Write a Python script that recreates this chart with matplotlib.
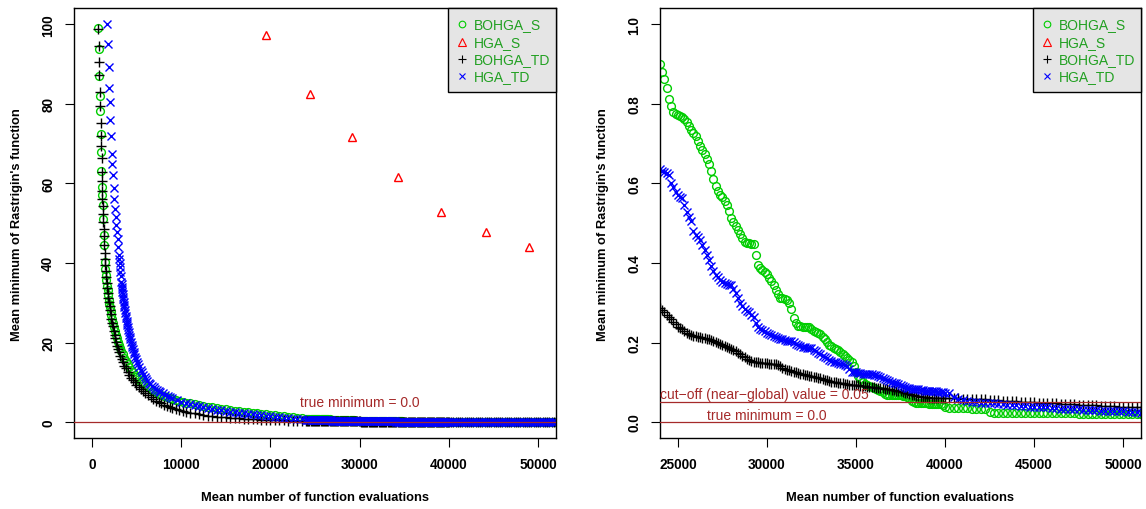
import matplotlib
matplotlib.use("Agg")
import matplotlib.pyplot as plt
from matplotlib.patches import Rectangle

plt.rcParams['font.family'] = ['Liberation Sans', 'DejaVu Sans']

# ---------------- data ----------------
series_names = ["BOHGA_S", "HGA_S", "BOHGA_TD", "HGA_TD"]

# evaluation positions of the late (24000+) part, shared by the three dense series
late_x = [24000, 24125, 24250, 24375, 24500, 24625, 24750, 24875,
          25000, 25125, 25250, 25375, 25500, 25625, 25750, 25875,
          26000, 26125, 26250, 26375, 26500, 26625, 26750, 26875,
          27000, 27125, 27250, 27375, 27500, 27625, 27750, 27875,
          28000, 28125, 28250, 28375, 28500, 28625, 28750, 28875,
          29000, 29125, 29250, 29375, 29500, 29625, 29750, 29875,
          30000, 30125, 30250, 30375, 30500, 30625, 30750, 30875,
          31000, 31125, 31250, 31375, 31500, 31625, 31750, 31875,
          32000, 32125, 32250, 32375, 32500, 32625, 32750, 32875,
          33000, 33125, 33250, 33375, 33500, 33625, 33750, 33875,
          34000, 34125, 34250, 34375, 34500, 34625, 34750, 34875,
          35000, 35125, 35250, 35375, 35500, 35625, 35750, 35875,
          36000, 36125, 36250, 36375, 36500, 36625, 36750, 36875,
          37000, 37125, 37250, 37375, 37500, 37625, 37750, 37875,
          38000, 38125, 38250, 38375, 38500, 38625, 38750, 38875,
          39000, 39125, 39250, 39375, 39500, 39625, 39750, 39875,
          40000,
          40250, 40500, 40750, 41000, 41250, 41500, 41750, 42000, 42250, 42500, 42750, 43000,
          43250, 43500, 43750, 44000, 44250, 44500, 44750, 45000, 45250, 45500, 45750, 46000,
          46250, 46500, 46750, 47000, 47250, 47500, 47750, 48000, 48250, 48500, 48750, 49000,
          49250, 49500, 49750, 50000, 50250, 50500, 50750, 51000, 51250, 51500, 51750, 52000]

# BOHGA_S (green circles)
bohga_s_early_x = [640, 760, 800, 860, 900, 970, 1010, 1080, 1140, 1170, 1250, 1300, 1350, 1390,
                   1460, 1520, 1580, 1640, 1700, 1760, 1830, 1900, 1970, 2040, 2120, 2200, 2290,
                   2380, 2480, 2580, 2690, 2800, 2920, 3040, 3170, 3300, 3450, 3600, 3800, 4000,
                   4200, 4400, 4600, 4800, 5000, 5250, 5500, 5750, 6000, 6300, 6600, 6900, 7200,
                   7500, 7800, 8100, 8400, 8700, 9000, 9400, 9800, 10200, 10600, 11000, 11500,
                   12000, 12500, 13000, 13500, 14000, 14500, 15000, 15500, 16000, 16500, 17000,
                   17500, 18000, 18500, 19000, 19500, 20000, 20500, 21000, 21500, 22000, 22500,
                   23000, 23500]
bohga_s_early_y = [99.0, 93.7, 86.9, 82.0, 78.1, 72.5, 68.0, 63.1, 59.1, 57.1, 54.5, 51.1, 47.1, 44.4,
                   40.3, 38.6, 37.0, 35.6, 34.3, 33.1, 31.9, 30.8, 29.8, 28.8, 27.8, 26.8, 25.8,
                   24.9, 23.9, 23.0, 22.0, 21.1, 20.2, 19.4, 18.5, 17.8, 17.0, 16.2, 15.3, 14.5,
                   13.8, 13.1, 12.5, 11.9, 11.4, 10.8, 10.2, 9.7, 9.2, 8.8, 8.3, 7.9, 7.5,
                   7.1, 6.8, 6.45, 6.2, 5.95, 5.75, 5.5, 5.3, 5.1, 4.9, 4.7, 4.5,
                   4.3, 4.1, 3.9, 3.72, 3.55, 3.38, 3.2, 3.05, 2.9, 2.75, 2.6,
                   2.47, 2.35, 2.22, 2.1, 1.97, 1.85, 1.72, 1.6, 1.47, 1.35, 1.22,
                   1.1, 1.0]
bohga_s_late_y = [0.900, 0.880, 0.862, 0.840, 0.812, 0.795, 0.780, 0.775,
                  0.772, 0.769, 0.766, 0.762, 0.755, 0.745, 0.735, 0.727,
                  0.718, 0.706, 0.694, 0.684, 0.674, 0.662, 0.648, 0.630,
                  0.610, 0.594, 0.580, 0.572, 0.565, 0.556, 0.545, 0.530,
                  0.514, 0.503, 0.493, 0.482, 0.472, 0.462, 0.452, 0.450,
                  0.449, 0.448, 0.447, 0.420, 0.395, 0.388, 0.383, 0.378,
                  0.372, 0.363, 0.355, 0.344, 0.333, 0.322, 0.313, 0.311,
                  0.309, 0.306, 0.300, 0.285, 0.262, 0.248, 0.242, 0.241,
                  0.240, 0.240, 0.240, 0.238, 0.235, 0.230, 0.226, 0.224,
                  0.221, 0.215, 0.208, 0.201, 0.195, 0.190, 0.186, 0.183,
                  0.180, 0.176, 0.172, 0.167, 0.162, 0.157, 0.150, 0.140,
                  0.125, 0.115, 0.108, 0.100, 0.095, 0.092, 0.090, 0.088,
                  0.086, 0.083, 0.080, 0.078, 0.075, 0.071, 0.069, 0.069,
                  0.069, 0.068, 0.068, 0.067, 0.067, 0.066, 0.066, 0.064,
                  0.060, 0.054, 0.050, 0.049, 0.048, 0.047, 0.047, 0.047,
                  0.047, 0.046, 0.046, 0.046, 0.046, 0.045, 0.045, 0.042,
                  0.037,
                  0.036, 0.036, 0.035, 0.035, 0.035, 0.034, 0.034, 0.034, 0.033, 0.025, 0.024, 0.024,
                  0.024, 0.024, 0.023, 0.023, 0.023, 0.023, 0.023, 0.023, 0.022, 0.022, 0.022, 0.022,
                  0.022, 0.022, 0.022, 0.022, 0.022, 0.021, 0.021, 0.021, 0.021, 0.021, 0.021, 0.021,
                  0.021, 0.021, 0.020, 0.020, 0.020, 0.020, 0.020, 0.020, 0.020, 0.020, 0.020, 0.020]

# HGA_S (red triangles)
hga_s_x = [19500, 24450, 29200, 34300, 39100, 44200, 49000]
hga_s_y = [97.2, 82.5, 71.7, 61.7, 52.9, 47.9, 44.1]

# BOHGA_TD (black plus)
bohga_td_early_x = [640, 787, 800, 824, 899, 936, 974, 1011, 1050, 1086, 1110, 1123, 1145, 1161,
                    1198, 1235, 1273, 1310, 1348, 1386, 1423, 1470, 1520, 1570, 1620, 1680, 1740,
                    1800, 1860, 1920, 1980, 2050, 2120, 2200, 2280, 2360, 2450, 2540, 2640, 2740,
                    2850, 2960, 3080, 3200, 3350, 3500, 3650, 3800, 4000, 4200, 4400, 4600, 4800,
                    5000, 5250, 5500, 5750, 6000, 6300, 6600, 6900, 7200, 7500, 7800, 8100, 8400,
                    8700, 9000, 9400, 9800, 10200, 10600, 11000, 11500, 12000, 12500, 13000, 13500,
                    14000, 14500, 15000, 15500, 16000, 16500, 17000, 17500, 18000, 18500, 19000,
                    19500, 20000, 20500, 21000, 21500, 22000, 22500, 23000, 23500]
bohga_td_early_y = [98.9, 94.6, 90.6, 87.2, 83.0, 79.4, 75.2, 71.9, 69.3, 66.4, 62.9, 60.5, 58.2, 56.1,
                    54.3, 52.4, 50.4, 48.6, 46.8, 44.4, 42.4, 40.9, 39.4, 37.9, 36.4, 35.0, 33.7,
                    32.5, 31.3, 30.3, 29.3, 28.1, 27.1, 26.0, 25.0, 24.1, 23.0, 22.0, 21.1, 20.2,
                    19.2, 18.4, 17.5, 16.7, 15.8, 15.0, 14.2, 13.5, 12.7, 11.9, 11.2, 10.6, 10.0,
                    9.4, 8.8, 8.2, 7.7, 7.2, 6.7, 6.2, 5.8, 5.4, 5.0, 4.7, 4.4, 4.1,
                    3.8, 3.6, 3.3, 3.0, 2.8, 2.6, 2.4, 2.2, 2.0, 1.8, 1.65, 1.5,
                    1.4, 1.3, 1.2, 1.1, 1.0, 0.92, 0.85, 0.78, 0.72, 0.67, 0.62,
                    0.57, 0.53, 0.49, 0.45, 0.42, 0.39, 0.36, 0.33, 0.31]
bohga_td_late_y = [0.286, 0.281, 0.276, 0.270, 0.265, 0.258, 0.252, 0.246,
                   0.240, 0.237, 0.234, 0.229, 0.224, 0.221, 0.219, 0.217,
                   0.216, 0.215, 0.214, 0.212, 0.211, 0.210, 0.208, 0.206,
                   0.204, 0.202, 0.200, 0.196, 0.193, 0.191, 0.189, 0.186,
                   0.183, 0.181, 0.178, 0.174, 0.170, 0.166, 0.163, 0.159,
                   0.156, 0.154, 0.152, 0.151, 0.150, 0.149, 0.149, 0.148,
                   0.148, 0.147, 0.147, 0.146, 0.145, 0.143, 0.140, 0.137,
                   0.134, 0.132, 0.130, 0.128, 0.127, 0.125, 0.123, 0.122,
                   0.121, 0.119, 0.118, 0.116, 0.115, 0.114, 0.113, 0.111,
                   0.110, 0.108, 0.107, 0.105, 0.103, 0.102, 0.101, 0.100,
                   0.099, 0.098, 0.097, 0.096, 0.095, 0.094, 0.094, 0.093,
                   0.093, 0.092, 0.091, 0.090, 0.090, 0.089, 0.088, 0.087,
                   0.087, 0.086, 0.086, 0.085, 0.085, 0.084, 0.083, 0.082,
                   0.081, 0.080, 0.079, 0.078, 0.077, 0.075, 0.074, 0.072,
                   0.071, 0.069, 0.068, 0.066, 0.065, 0.064, 0.063, 0.062,
                   0.062, 0.061, 0.061, 0.061, 0.061, 0.060, 0.060, 0.060,
                   0.060,
                   0.060, 0.060, 0.060, 0.059, 0.059, 0.059, 0.058, 0.058, 0.057, 0.056, 0.056, 0.055,
                   0.054, 0.053, 0.052, 0.052, 0.051, 0.051, 0.050, 0.050, 0.049, 0.049, 0.048, 0.047,
                   0.047, 0.046, 0.046, 0.045, 0.045, 0.044, 0.043, 0.043, 0.042, 0.042, 0.041, 0.041,
                   0.040, 0.040, 0.039, 0.039, 0.038, 0.038, 0.037, 0.037, 0.037, 0.036, 0.036, 0.036]

# HGA_TD (blue crosses)
hga_td_early_x = [1723, 1798, 1873, 1948, 2022, 2060, 2135, 2210, 2285, 2360, 2435, 2509, 2584,
                  2659, 2734, 2809, 2884, 2958, 3033, 3080, 3108, 3150, 3183, 3240, 3296, 3323,
                  3350, 3379, 3408, 3444, 3480, 3519, 3558, 3604, 3650, 3697, 3745, 3792, 3840,
                  3886, 3933, 3976, 4020, 4070, 4120, 4185, 4250, 4316, 4382, 4456, 4530, 4606,
                  4682, 4771, 4860, 4958, 5056, 5178, 5300, 5459, 5618, 5759, 5900, 6040, 6180,
                  6365, 6550, 6740, 6929, 7115, 7300, 7490, 7678, 8000, 8250, 8500, 8750, 9000,
                  9500, 10000, 10500, 11000, 11500, 12000, 12500, 13000, 13500, 14000, 14500,
                  15000, 15500, 16000, 16500, 17000, 17500, 18000, 18500, 19000, 19500, 20000,
                  20500, 21000, 21500, 22000, 22500, 23000, 23500]
hga_td_early_y = [100.0, 95.0, 89.3, 84.0, 80.5, 76.0, 71.8, 67.4, 64.9, 62.0, 58.9, 56.1, 53.6,
                  51.5, 49.5, 47.8, 46.0, 44.1, 42.0, 41.0, 39.9, 39.0, 37.8, 36.6, 35.3, 34.6,
                  34.0, 33.4, 32.8, 32.1, 31.5, 30.9, 30.3, 29.5, 28.8, 28.1, 27.4, 26.7, 26.1,
                  25.4, 24.8, 24.3, 23.8, 23.2, 22.7, 22.0, 21.4, 20.8, 20.2, 19.5, 18.9, 18.3,
                  17.7, 17.0, 16.4, 15.8, 15.2, 14.5, 13.9, 13.2, 12.5, 11.9, 11.4, 10.9, 10.4,
                  9.9, 9.5, 9.1, 8.7, 8.3, 8.0, 7.7, 7.5, 7.2, 6.9, 6.6, 6.3, 6.0,
                  5.5, 5.1, 4.8, 4.5, 4.25, 4.0, 3.75, 3.5, 3.32, 3.15, 2.97,
                  2.8, 2.65, 2.5, 2.35, 2.2, 2.07, 1.95, 1.82, 1.7, 1.57, 1.45,
                  1.32, 1.2, 1.1, 1.0, 0.9, 0.8, 0.72]
hga_td_late_y = [0.635, 0.632, 0.628, 0.626, 0.622, 0.600, 0.590, 0.578,
                 0.570, 0.566, 0.563, 0.545, 0.528, 0.515, 0.505, 0.480,
                 0.470, 0.464, 0.458, 0.445, 0.432, 0.420, 0.408, 0.393,
                 0.380, 0.370, 0.364, 0.357, 0.352, 0.349, 0.347, 0.345,
                 0.344, 0.335, 0.325, 0.312, 0.300, 0.291, 0.285, 0.280,
                 0.276, 0.270, 0.264, 0.248, 0.238, 0.235, 0.232, 0.228,
                 0.225, 0.222, 0.219, 0.216, 0.214, 0.212, 0.210, 0.208,
                 0.206, 0.205, 0.204, 0.203, 0.201, 0.197, 0.193, 0.191,
                 0.189, 0.188, 0.187, 0.186, 0.185, 0.182, 0.178, 0.174,
                 0.170, 0.166, 0.163, 0.160, 0.157, 0.154, 0.152, 0.150,
                 0.148, 0.146, 0.145, 0.143, 0.140, 0.133, 0.127, 0.126,
                 0.125, 0.124, 0.123, 0.122, 0.122, 0.121, 0.121, 0.120,
                 0.119, 0.118, 0.116, 0.114, 0.111, 0.108, 0.106, 0.103,
                 0.100, 0.098, 0.097, 0.095, 0.093, 0.090, 0.088, 0.086,
                 0.085, 0.084, 0.083, 0.082, 0.082, 0.081, 0.080, 0.079,
                 0.079, 0.078, 0.078, 0.077, 0.077, 0.076, 0.075, 0.075,
                 0.074,
                 0.073, 0.064, 0.058, 0.055, 0.052, 0.051, 0.050, 0.049, 0.049, 0.048, 0.047, 0.046,
                 0.045, 0.044, 0.043, 0.042, 0.041, 0.040, 0.039, 0.038, 0.038, 0.037, 0.037, 0.036,
                 0.035, 0.034, 0.034, 0.033, 0.032, 0.032, 0.031, 0.031, 0.030, 0.030, 0.029, 0.029,
                 0.028, 0.028, 0.027, 0.027, 0.026, 0.025, 0.025, 0.024, 0.024, 0.023, 0.023, 0.023]

true_minimum = 0.0
cutoff_value = 0.05

left_xticks = [0, 10000, 20000, 30000, 40000, 50000]
left_yticks = [0, 20, 40, 60, 80, 100]
right_xticks = [25000, 30000, 35000, 40000, 45000, 50000]
right_yticks = [0.0, 0.2, 0.4, 0.6, 0.8, 1.0]
right_ytick_labels = ["0.0", "0.2", "0.4", "0.6", "0.8", "1.0"]

xlabel = "Mean number of function evaluations"
ylabel = "Mean minimum of Rastrigin's function"

# ---------------- styles ----------------
colors = {"BOHGA_S": "#00CD00", "HGA_S": "#FF0000", "BOHGA_TD": "#000000", "HGA_TD": "#0000FF"}
markers = {"BOHGA_S": "o", "HGA_S": "^", "BOHGA_TD": "+", "HGA_TD": "x"}
msizes = {"BOHGA_S": 5.6, "HGA_S": 6.4, "BOHGA_TD": 6.6, "HGA_TD": 5.4}
legend_text_color = "#22A022"
line_color = "#A52A2A"

data = {
    "BOHGA_S": (bohga_s_early_x + late_x, bohga_s_early_y + bohga_s_late_y),
    "HGA_S": (hga_s_x, hga_s_y),
    "BOHGA_TD": (bohga_td_early_x + late_x, bohga_td_early_y + bohga_td_late_y),
    "HGA_TD": (hga_td_early_x + late_x, hga_td_early_y + hga_td_late_y),
}

W, H = 1146, 510
fig = plt.figure(figsize=(W / 100, H / 100), dpi=100)
ax_h = 429.7
ax1 = fig.add_axes([74 / W, 1 - 439 / H, 482 / W, ax_h / H])
ax2 = fig.add_axes([660 / W, 1 - 439 / H, 481 / W, ax_h / H])


def draw_series(ax):
    for name in series_names:
        xs, ys = data[name]
        filled = markers[name] in ("+", "x")
        ax.plot(xs, ys, linestyle="none", marker=markers[name], ms=msizes[name],
                mec=colors[name], mfc=(colors[name] if filled else "none"),
                mew=1.0, color=colors[name], clip_on=True)


def draw_legend(ax):
    ax.add_patch(Rectangle((0.776, 0.805), 0.224, 0.195, transform=ax.transAxes,
                           facecolor="#E5E5E5", edgecolor="black", lw=1.0, zorder=5,
                           clip_on=False))
    rows = [0.9635, 0.921, 0.882, 0.843]
    for name, yy in zip(series_names, rows):
        filled = markers[name] in ("+", "x")
        ax.plot([0.804], [yy], transform=ax.transAxes, linestyle="none",
                marker=markers[name], ms=msizes[name] * 0.85, mec=colors[name],
                mfc=(colors[name] if filled else "none"), mew=0.8, zorder=6, clip_on=False)
        ax.text(0.830, yy, name, transform=ax.transAxes, color=legend_text_color,
                fontsize=10, va="center", ha="left", zorder=6)


def style_axes(ax, xt, yt, ytl=None):
    ax.set_xticks(xt)
    ax.set_yticks(yt)
    ax.set_xticklabels([str(v) for v in xt], fontweight="bold", fontsize=9.8)
    ax.set_yticklabels(ytl if ytl is not None else [str(v) for v in yt],
                       rotation=90, va="center", fontweight="bold", fontsize=9.8)
    ax.tick_params(direction="out", length=6.5, width=0.8, pad=7)
    for s in ax.spines.values():
        s.set_linewidth(1.0)
    ax.set_xlabel(xlabel, fontsize=9.3, fontweight="bold")
    ax.set_ylabel(ylabel, fontsize=9.3, fontweight="bold")
    ax.xaxis.set_label_coords(0.5, -59 / ax_h)
    ax.yaxis.set_label_coords(-57 / 482, 0.5)
    ax.xaxis.label.set_va("center")
    ax.yaxis.label.set_va("center")


# left panel
draw_series(ax1)
ax1.axhline(true_minimum, color=line_color, lw=0.9, zorder=3)
ax1.text(30000, 4.94, "true minimum = 0.0", color=line_color, fontsize=10,
         ha="center", va="center")
ax1.set_xlim(-2000, 52000)
ax1.set_ylim(-4, 104)
style_axes(ax1, left_xticks, left_yticks)
draw_legend(ax1)

# right panel
draw_series(ax2)
ax2.axhline(cutoff_value, color=line_color, lw=0.9, zorder=3)
ax2.axhline(true_minimum, color=line_color, lw=0.9, zorder=3)
ax2.text(29850, 0.071, "cut\u2212off (near\u2212global) value = 0.05", color=line_color,
         fontsize=10, ha="center", va="center", clip_on=True)
ax2.text(30000, 0.018, "true minimum = 0.0", color=line_color, fontsize=10,
         ha="center", va="center")
ax2.set_xlim(24000, 51000)
ax2.set_ylim(-0.04, 1.04)
style_axes(ax2, right_xticks, right_yticks, right_ytick_labels)
draw_legend(ax2)

fig.savefig("out.png", dpi=100)
